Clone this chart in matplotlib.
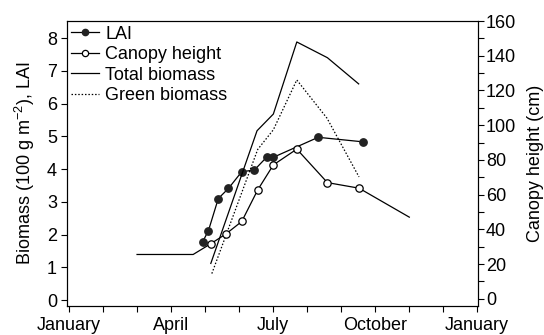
import matplotlib
matplotlib.use("Agg")
import matplotlib.pyplot as plt
from matplotlib.ticker import MultipleLocator

plt.rcParams['font.family'] = ['Liberation Sans', 'DejaVu Sans']
plt.rcParams['mathtext.fontset'] = 'custom'
plt.rcParams['mathtext.rm'] = 'Liberation Sans'
plt.rcParams['mathtext.it'] = 'Liberation Sans'

# x in months since 1 January
lai_x = [3.93, 4.10, 4.39, 4.69, 5.08, 5.45, 5.81, 6.01, 7.33, 8.66]
lai_y = [1.78, 2.12, 3.10, 3.41, 3.92, 3.97, 4.36, 4.36, 4.97, 4.83]

height_x = [2.0, 3.65, 4.17, 4.62, 5.08, 5.55, 6.01, 6.70, 7.60, 8.53, 10.01]
height_y = [25.5, 25.5, 31.7, 37.4, 44.5, 62.7, 77.1, 86.2, 66.9, 63.7, 47.0]
height_marked = [2, 3, 4, 5, 6, 7, 8, 9]

total_x = [4.17, 5.53, 6.01, 6.70, 7.60, 8.52]
total_y = [1.12, 5.17, 5.68, 7.88, 7.40, 6.60]

green_x = [4.20, 5.55, 6.01, 6.70, 7.59, 8.53]
green_y = [0.81, 4.60, 5.20, 6.72, 5.55, 3.76]

month_ticks = [0, 3, 6, 9, 12]
month_labels = ['January', 'April', 'July', 'October', 'January']

FS = 13

fig = plt.figure(figsize=(5.44, 3.35), dpi=100)
ax = fig.add_axes([0.1226, 0.0875, 0.878 - 0.1226, 0.9373 - 0.0875])
ax2 = ax.twinx()

lw = 0.9
l1, = ax.plot(lai_x, lai_y, '-', color='black', lw=lw, marker='o', ms=5.3,
              mfc='#222222', mec='#222222', label='LAI')
l2, = ax2.plot(height_x, height_y, '-', color='black', lw=lw, marker='o', ms=5.3,
               mfc='white', mec='black', mew=0.9, markevery=height_marked,
               label='Canopy height')
l3, = ax.plot(total_x, total_y, '-', color='black', lw=lw, label='Total biomass')
l4, = ax.plot(green_x, green_y, linestyle=(0, (1.2, 1.5)), color='black', lw=lw,
              label='Green biomass')

ax.set_xlim(-0.07, 12.02)
ax.set_ylim(-0.17, 8.52)
ax2.set_ylim(-4, 160)

ax.set_xticks(month_ticks)
ax.set_xticklabels(month_labels, fontsize=FS)
ax.xaxis.set_minor_locator(MultipleLocator(1))
ax.set_yticks(range(0, 9))
ax.tick_params(axis='both', labelsize=FS, direction='out', length=4, width=0.8)
ax.tick_params(axis='y', pad=3)
ax.tick_params(axis='x', which='minor', direction='out', length=4, width=0.8)
ax.tick_params(axis='x', pad=4)

ax2.set_yticks(range(0, 161, 20))
ax2.yaxis.set_minor_locator(MultipleLocator(10))
ax2.tick_params(axis='y', labelsize=FS, direction='out', length=4, width=0.8, pad=2)
ax2.tick_params(axis='y', which='minor', direction='out', length=4, width=0.8)

ax.set_ylabel('Biomass (100 g m$^{-2}$), LAI', fontsize=FS, labelpad=7)
ax2.set_ylabel('Canopy height (cm)', fontsize=FS, labelpad=8)

for a in (ax, ax2):
    for s in a.spines.values():
        s.set_linewidth(0.8)

ax.legend(handles=[l1, l2, l3, l4], loc='upper left', frameon=False, fontsize=13,
          handlelength=1.55, handletextpad=0.33, labelspacing=0.2,
          borderaxespad=0.15, borderpad=0.1, markerscale=0.85)

fig.savefig('out.png', dpi=100)
